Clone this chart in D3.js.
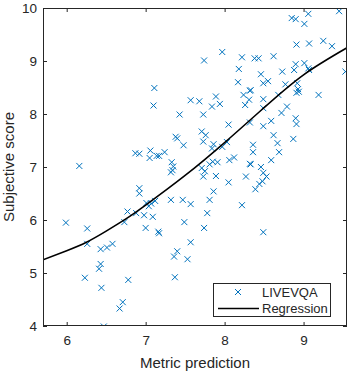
<!DOCTYPE html>
<html>
<head>
<meta charset="utf-8">
<script src="https://cdn.jsdelivr.net/npm/d3@7"></script>
<style>
  body { margin: 0; background: #fff; }
  text { font-family: "Liberation Sans", Arial, Helvetica, sans-serif; fill: #262626; }
</style>
</head>
<body>
<div id="chart"></div>
<script>
// scatter points (metric prediction, subjective score)
const metric = [
  6.16, 5.99, 6.26, 6.26, 6.43, 6.51, 6.58, 6.73, 6.77, 6.88, 6.43, 6.41, 6.23, 6.78, 6.44, 6.71, 6.67, 6.47,
  6.87, 6.92, 6.92, 6.92, 6.98, 7.00, 7.09, 7.16, 7.17, 7.01, 7.04, 7.07, 7.12, 7.32, 7.05, 7.06, 7.14, 7.17,
  7.24, 7.33, 7.35, 7.34, 7.32, 7.38, 7.11, 7.10, 7.36, 7.37,
  7.43, 7.73, 7.57, 7.68, 7.89, 7.94, 7.84, 7.74, 7.97, 7.71, 7.76, 7.73, 7.40, 7.48, 7.86, 7.84, 7.97, 8.03,
  8.05, 7.47, 7.57, 7.81, 7.86, 7.78, 7.74, 7.49, 7.57, 7.40, 7.53, 7.71, 7.75, 7.73, 7.81, 7.85, 7.91, 7.89,
  8.05, 8.06, 8.12,
  8.22, 8.38, 8.43, 8.62, 8.18, 8.17, 8.46, 8.49, 8.55, 8.32, 8.33, 8.24, 8.31, 8.26, 8.49, 8.49, 8.32, 8.49,
  8.59, 8.62, 8.67, 8.36, 8.36, 8.69, 8.59, 8.32, 8.33, 8.46, 8.49, 8.53, 8.48, 8.44, 8.27, 8.39, 8.22, 8.49,
  8.85, 8.90, 9.01, 9.06, 9.45, 8.91, 9.07, 9.25, 9.36, 9.53, 8.73, 8.88, 8.90, 9.01, 9.06, 9.07, 8.77, 8.92,
  8.93, 8.91, 8.94, 9.19, 8.68, 8.72, 8.79, 8.90, 8.91, 8.87
];
const subjective = [
  7.02, 5.95, 5.84, 5.55, 5.45, 5.48, 5.55, 5.96, 6.16, 6.13, 5.17, 5.08, 4.91, 4.87, 4.72, 4.45, 4.33, 3.99,
  7.26, 7.25, 6.60, 6.50, 6.09, 5.85, 6.06, 5.78, 5.75, 6.32, 6.26, 6.31, 6.36, 6.38, 7.17, 7.31, 7.21, 7.21,
  7.28, 7.09, 7.01, 6.94, 6.90, 7.57, 8.49, 8.16, 5.31, 4.92,
  7.99, 7.99, 8.26, 8.24, 8.33, 8.19, 8.14, 9.01, 9.17, 7.67, 7.60, 7.48, 7.54, 7.41, 7.43, 7.35, 7.38, 7.47,
  7.80, 6.38, 6.30, 6.38, 6.54, 6.13, 5.85, 5.96, 5.58, 5.41, 5.26, 6.98, 6.92, 6.82, 7.05, 7.10, 7.09, 6.83,
  6.71, 7.13, 7.18,
  9.07, 9.05, 9.05, 9.09, 8.85, 8.60, 8.75, 8.58, 8.62, 8.44, 8.45, 8.36, 8.27, 8.17, 8.28, 8.11, 7.84, 7.77,
  7.87, 7.60, 7.45, 7.42, 7.28, 7.28, 7.13, 7.06, 7.05, 7.00, 6.89, 6.82, 6.73, 6.68, 6.82, 6.58, 6.28, 5.77,
  9.81, 9.79, 9.70, 9.89, 9.94, 9.31, 9.33, 9.38, 9.28, 8.80, 8.80, 8.83, 8.94, 8.96, 8.86, 8.83, 8.56, 8.58,
  8.47, 8.40, 8.42, 8.36, 8.36, 8.02, 8.14, 7.92, 7.81, 7.53
];
// regression curve, sampled from the figure
const fitX = [5.7, 6.0, 6.25, 6.5, 6.75, 7.0, 7.5, 8.0, 8.5, 9.0, 9.55];
const fitY = [5.25, 5.42, 5.58, 5.79, 6.02, 6.28, 6.84, 7.46, 8.12, 8.74, 9.25];
const xTicks = [6, 7, 8, 9];
const yTicks = [4, 5, 6, 7, 8, 9, 10];

let width = 351,
    height = 373,
    margin = ({ top: 8, right: 4, bottom: 47, left: 43 });

const svg = d3.select("#chart")
  .append("svg")
  .attr("width", width)
  .attr("height", height);

let x = d3.scaleLinear()
  .domain([5.7, 9.55])
  .range([margin.left, width - margin.right]);

let y = d3.scaleLinear()
  .domain([4, 10])
  .range([height - margin.bottom, margin.top]);

const points = metric.map((m, i) => ({ m: m, s: subjective[i] }));
const fit = fitX.map((v, i) => ({ m: v, s: fitY[i] }));

// clip everything to the axes box
svg.append("clipPath").attr("id", "plot")
  .append("rect")
  .attr("x", margin.left).attr("y", margin.top)
  .attr("width", width - margin.left - margin.right)
  .attr("height", height - margin.top - margin.bottom);

// x markers
svg.append("g")
  .attr("clip-path", "url(#plot)")
  .attr("stroke", "#0072BD")
  .attr("stroke-width", 1)
  .attr("fill", "none")
  .selectAll("path")
  .data(points)
  .join("path")
  .attr("transform", d => `translate(${x(d.m)},${y(d.s)})`)
  .attr("d", "M-3,-3L3,3M3,-3L-3,3");

// regression line
svg.append("path")
  .datum(fit)
  .attr("clip-path", "url(#plot)")
  .attr("fill", "none")
  .attr("stroke", "#000")
  .attr("stroke-width", 1.6)
  .attr("d", d3.line().x(d => x(d.m)).y(d => y(d.s)).curve(d3.curveNatural));

// axes, ticks pointing inward like matlab
const styleAxis = g => {
  g.select(".domain").remove();
  g.selectAll(".tick line").attr("stroke", "#262626");
  g.selectAll("text").attr("font-size", 13.5).attr("fill", "#262626");
};
svg.append("g")
  .attr("transform", `translate(0,${height - margin.bottom})`)
  .call(d3.axisBottom(x).tickValues(xTicks).tickFormat(d3.format("d")).tickSize(-4).tickPadding(9))
  .call(styleAxis);
svg.append("g")
  .attr("transform", `translate(0,${margin.top})`)
  .call(d3.axisTop(x).tickValues(xTicks).tickSize(-4).tickFormat(""))
  .call(styleAxis);
svg.append("g")
  .attr("transform", `translate(${margin.left},0)`)
  .call(d3.axisLeft(y).tickValues(yTicks).tickFormat(d3.format("d")).tickSize(-4).tickPadding(6))
  .call(styleAxis);
svg.append("g")
  .attr("transform", `translate(${width - margin.right},0)`)
  .call(d3.axisRight(y).tickValues(yTicks).tickSize(-4).tickFormat(""))
  .call(styleAxis);

// box
svg.append("rect")
  .attr("x", margin.left + 0.5).attr("y", margin.top + 0.5)
  .attr("width", width - margin.left - margin.right - 1)
  .attr("height", height - margin.top - margin.bottom - 1)
  .attr("fill", "none")
  .attr("stroke", "#262626")
  .attr("stroke-width", 1);

// axis labels
svg.append("text")
  .attr("x", (margin.left + width - margin.right) / 2)
  .attr("y", 368)
  .attr("text-anchor", "middle")
  .attr("font-size", 15)
  .text("Metric prediction");
svg.append("text")
  .attr("transform", `translate(14,${(margin.top + height - margin.bottom) / 2}) rotate(-90)`)
  .attr("text-anchor", "middle")
  .attr("font-size", 15)
  .text("Subjective score");

// legend
const legend = svg.append("g").attr("transform", "translate(213,283)");
legend.append("rect")
  .attr("x", 0.5).attr("y", 0.5)
  .attr("width", 117).attr("height", 33)
  .attr("fill", "#fff")
  .attr("stroke", "#262626");
legend.append("path")
  .attr("transform", "translate(25,9)")
  .attr("d", "M-3,-3L3,3M3,-3L-3,3")
  .attr("stroke", "#0072BD")
  .attr("fill", "none");
legend.append("line")
  .attr("x1", 5).attr("x2", 46)
  .attr("y1", 25.5).attr("y2", 25.5)
  .attr("stroke", "#000")
  .attr("stroke-width", 1.6);
legend.append("text")
  .attr("x", 49).attr("y", 13.5)
  .attr("font-size", 13)
  .text("LIVEVQA");
legend.append("text")
  .attr("x", 49).attr("y", 30)
  .attr("font-size", 13)
  .text("Regression");
</script>
</body>
</html>
